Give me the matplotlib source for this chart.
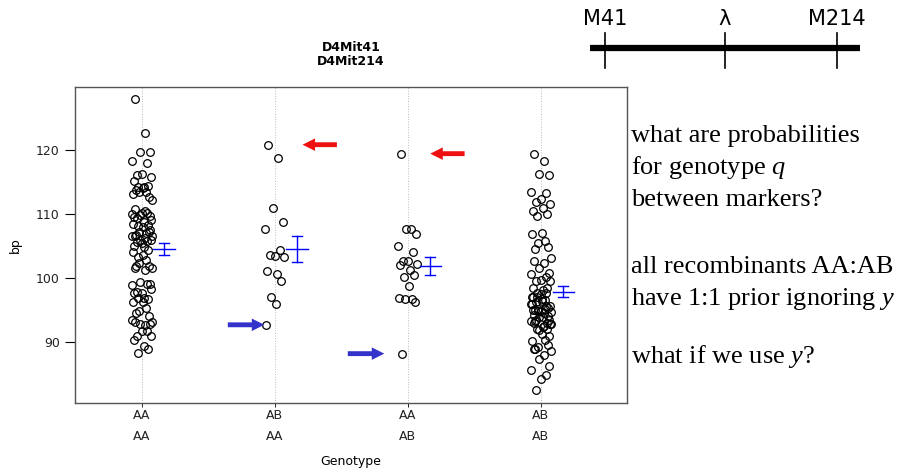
import numpy as np
import matplotlib.pyplot as plt

plt.rcParams['mathtext.fontset'] = 'custom'
plt.rcParams['mathtext.it'] = 'Liberation Serif:italic'
plt.rcParams['mathtext.rm'] = 'Liberation Serif'

# phenotype (bp) by genotype at D4Mit41 / D4Mit214
geno_labels = ['AA\nAA', 'AB\nAA', 'AA\nAB', 'AB\nAB']

bp_aa_aa = [128.0, 122.6, 119.7, 119.6, 118.2, 118.0, 116.2, 116.1, 115.7,
            115.1, 114.2, 114.3, 114.2, 114.0, 113.1, 113.4, 113.4, 112.6, 113.7, 112.2,
            110.8, 110.5, 109.9, 109.6, 110.0, 110.1, 110.2, 109.3, 109.0, 109.5,
            108.8, 108.2, 108.1, 108.0, 108.4, 107.1, 107.2, 107.2, 106.7, 106.5,
            106.6, 106.2, 106.0, 107.5, 106.5,
            105.7, 105.4, 105.6, 105.9, 105.0, 104.9, 104.4, 103.3, 103.6, 104.1,
            102.8, 102.3, 101.8, 101.8, 101.5, 101.5, 101.2,
            99.4, 99.1, 98.9, 99.0, 97.6, 97.8, 98.3, 97.6, 96.9, 96.7, 96.9, 96.2, 96.3,
            95.3, 94.8, 94.1, 94.5, 93.2, 93.2, 92.7, 92.9, 92.9, 93.4, 91.8, 91.7,
            90.9, 91.0, 90.4, 89.4, 88.9, 88.3]

bp_ab_aa = [120.8, 118.7, 110.9, 108.8, 107.6, 104.3, 103.4, 103.6, 103.3,
            101.1, 100.6, 99.5, 97.0, 96.0, 92.7]

bp_aa_ab = [119.4, 107.6, 107.6, 106.8, 105.0, 104.1, 102.6, 102.7, 102.2, 102.0,
            101.2, 100.5, 100.1, 98.8, 96.9, 96.7, 96.7, 96.2, 88.2]

bp_ab_ab = [119.4, 118.3, 116.2, 116.1, 113.4, 113.2, 112.3, 111.9, 111.6, 110.5,
            110.9, 110.0, 109.6, 107.1, 106.8, 105.8, 105.5, 104.9, 104.5, 103.1,
            102.7, 102.3, 101.5, 100.8, 100.7, 100.2, 99.7, 99.6, 99.5, 98.4, 98.2,
            98.4, 97.6, 96.8, 97.1, 96.6, 95.1, 95.3, 95.0, 94.7, 94.2, 94.5, 93.9,
            93.4, 93.3, 97.6, 97.5, 96.3, 95.7, 95.0, 93.9, 93.0,
            97.0, 96.4, 95.9, 95.2, 94.8, 94.0, 93.3, 92.9, 93.0, 92.5, 91.9, 91.0,
            96.0, 95.6, 94.9, 93.5, 92.9, 97.0,
            92.4, 92.1, 92.1, 91.3, 90.2, 90.4, 89.3, 89.5, 88.9, 88.6, 89.0,
            88.0, 87.4, 86.2, 85.6, 84.8, 84.2, 82.6]

groups = [bp_aa_aa, bp_ab_aa, bp_aa_ab, bp_ab_ab]

jit = np.array([-0.6, 0.3, -0.1, 0.8, -0.9, 0.5, 0.0, -0.4, 0.9, -0.7,
                0.2, 0.6, -0.3, 0.1, -0.8, 0.4, -0.2, 0.7, -0.5, 0.95])

fig = plt.figure(figsize=(8.97, 4.72), dpi=100)
ax = fig.add_axes([75/897, 69/472, 552/897, 316/472])

for i, g in enumerate(groups):
    pos = i + 1
    ax.axvline(pos, color='#bbbbbb', lw=0.7, ls=':', zorder=0)
    y = np.array(g)
    x = pos + 0.08 * jit[np.arange(len(y)) % len(jit)]
    ax.plot(x, y, 'o', mfc='none', mec='black', ms=5.5, mew=0.9)
    m = y.mean()
    se = y.std(ddof=1) / np.sqrt(len(y))
    xc = pos + 0.17
    ax.plot([xc, xc], [m - se, m + se], color='blue', lw=1)
    ax.plot([xc - 0.04, xc + 0.04], [m - se, m - se], color='blue', lw=1)
    ax.plot([xc - 0.04, xc + 0.04], [m + se, m + se], color='blue', lw=1)
    ax.plot([xc - 0.08, xc + 0.08], [m, m], color='blue', lw=1)

ax.set_xlim(0.5, 4.65)
ax.set_ylim(80.5, 129.8)
ax.set_xticks([1, 2, 3, 4])
ax.set_xticklabels(geno_labels, fontsize=9, color='#222222', linespacing=1.8)
ax.set_yticks([90, 100, 110, 120])
ax.tick_params(axis='y', labelsize=9, length=7, width=0.8, pad=4, labelcolor='#222222')
ax.tick_params(axis='x', length=3, width=0.6, pad=1)
for s in ax.spines.values():
    s.set_color('#555555')
    s.set_linewidth(1.0)
ax.set_xlabel('Genotype', fontsize=9, labelpad=9)
fig.text(15/897, 1 - 245/472, 'bp', rotation=90, fontsize=9, ha='center', va='center')
ax.set_title('D4Mit41\nD4Mit214', fontsize=9, fontweight='bold', pad=16, linespacing=1.1)

# arrows pointing at the recombinant outliers
hi2, lo2 = max(bp_ab_aa), min(bp_ab_aa)
hi3, lo3 = max(bp_aa_ab), min(bp_aa_ab)
red = dict(arrowstyle='simple,head_width=0.9,head_length=0.9,tail_width=0.35', color='#ee1111', lw=0)
blu = dict(arrowstyle='simple,head_width=0.9,head_length=0.9,tail_width=0.35', color='#3333cc', lw=0)
ax.annotate('', xy=(2.19, hi2), xytext=(2.49, hi2), arrowprops=red)
ax.annotate('', xy=(3.15, hi3), xytext=(3.45, hi3), arrowprops=red)
ax.annotate('', xy=(1.944, lo2), xytext=(1.628, lo2), arrowprops=blu)
ax.annotate('', xy=(2.846, lo3), xytext=(2.53, lo3), arrowprops=blu)

# marker map
mp = fig.add_axes([0, 0, 1, 1], facecolor='none')
mp.set_xlim(0, 897)
mp.set_ylim(472, 0)
mp.axis('off')
mp.plot([590, 860], [48, 48], color='black', lw=4.5, solid_capstyle='butt')
for xm, lab in [(605, 'M41'), (725, '\u03bb'), (837, 'M214')]:
    mp.plot([xm, xm], [33, 68], color='black', lw=1.2)
    mp.text(xm, 29, lab, ha='center', va='bottom', fontsize=15)

tx = dict(family='Liberation Serif', fontsize=19, va='baseline')
mp.text(631, 142, 'what are probabilities', **tx)
mp.text(631, 174, 'for genotype $\\it{q}$', **tx)
mp.text(631, 206, 'between markers?', **tx)
mp.text(631, 273, 'all recombinants AA:AB', **tx)
mp.text(631, 305, 'have 1:1 prior ignoring $\\it{y}$', **tx)
mp.text(631, 363, 'what if we use $\\it{y}$?', **tx)

fig.savefig('out.png', dpi=100)
